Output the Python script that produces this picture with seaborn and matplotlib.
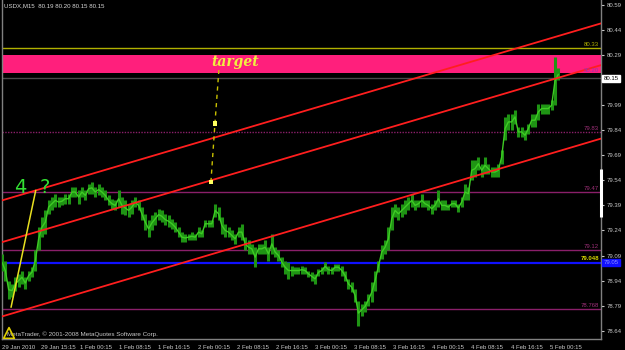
import numpy as np
import pandas as pd
import matplotlib
matplotlib.use("Agg")
import matplotlib.pyplot as plt
import seaborn as sns

# ---------------- data ----------------
title_text = "USDX,M15  80.19 80.20 80.15 80.15"
copyright_text = "MetaTrader, \u00a9 2001-2008 MetaQuotes Software Corp."

# sampled M15 price range (high / low), one sample every ~2.7 bars
bar_high = [79.10, 79.06, 78.94, 78.92, 78.96, 78.98, 79.00, 78.96, 79.00, 79.02,
            79.12, 79.26, 79.32, 79.36, 79.42, 79.44, 79.46, 79.44, 79.44, 79.46,
            79.46, 79.50, 79.50, 79.48, 79.50, 79.48, 79.52, 79.53, 79.50, 79.52,
            79.50, 79.48, 79.45, 79.43, 79.42, 79.48, 79.44, 79.42, 79.40, 79.42,
            79.44, 79.42, 79.38, 79.34, 79.30, 79.33, 79.35, 79.37, 79.36, 79.34,
            79.33, 79.31, 79.29, 79.26, 79.23, 79.22, 79.22, 79.23, 79.22, 79.26,
            79.24, 79.30, 79.30, 79.30, 79.40, 79.38, 79.32, 79.28, 79.26, 79.24,
            79.22, 79.26, 79.28, 79.20, 79.18, 79.16, 79.14, 79.16, 79.16, 79.18,
            79.14, 79.22, 79.14, 79.12, 79.08, 79.06, 79.05, 79.03, 79.02, 79.02,
            79.03, 79.02, 79.00, 78.99, 78.98, 79.01, 79.02, 79.05, 79.03, 79.02,
            79.04, 79.04, 79.03, 79.00, 78.95, 78.93, 78.89, 78.82, 78.80, 78.82,
            78.86, 78.93, 79.00, 79.06, 79.15, 79.18, 79.26, 79.38, 79.40, 79.38,
            79.40, 79.42, 79.44, 79.46, 79.42, 79.42, 79.46, 79.42, 79.42, 79.40,
            79.42, 79.48, 79.42, 79.42, 79.40, 79.42, 79.42, 79.40, 79.44, 79.52,
            79.50, 79.66, 79.66, 79.68, 79.64, 79.68, 79.64, 79.62, 79.62, 79.64,
            79.72, 79.92, 79.94, 79.94, 79.96, 79.86, 79.86, 79.84, 79.88, 79.94,
            79.94, 80.00, 80.00, 80.00, 80.00, 80.02, 80.28, 80.21]
bar_low = [79.00, 78.94, 78.83, 78.84, 78.88, 78.90, 78.92, 78.89, 78.94, 78.96,
           79.00, 79.12, 79.20, 79.22, 79.34, 79.36, 79.38, 79.38, 79.39, 79.40,
           79.40, 79.44, 79.44, 79.40, 79.44, 79.42, 79.46, 79.46, 79.44, 79.45,
           79.44, 79.42, 79.39, 79.37, 79.36, 79.38, 79.34, 79.33, 79.32, 79.34,
           79.38, 79.36, 79.30, 79.24, 79.20, 79.24, 79.27, 79.30, 79.29, 79.27,
           79.26, 79.25, 79.23, 79.20, 79.17, 79.17, 79.18, 79.18, 79.18, 79.20,
           79.20, 79.26, 79.26, 79.26, 79.32, 79.30, 79.22, 79.20, 79.20, 79.18,
           79.16, 79.20, 79.18, 79.12, 79.10, 79.10, 79.02, 79.10, 79.10, 79.10,
           79.06, 79.10, 79.08, 79.06, 79.02, 78.98, 78.95, 78.97, 78.98, 78.98,
           78.98, 78.98, 78.96, 78.94, 78.92, 78.97, 78.98, 79.00, 78.98, 78.98,
           79.00, 79.00, 78.97, 78.94, 78.89, 78.87, 78.81, 78.67, 78.73, 78.75,
           78.79, 78.81, 78.88, 78.99, 79.07, 79.10, 79.12, 79.24, 79.32, 79.30,
           79.32, 79.34, 79.36, 79.38, 79.36, 79.38, 79.38, 79.38, 79.36, 79.34,
           79.36, 79.38, 79.36, 79.36, 79.36, 79.38, 79.38, 79.35, 79.38, 79.42,
           79.42, 79.54, 79.56, 79.60, 79.56, 79.58, 79.58, 79.56, 79.56, 79.56,
           79.64, 79.78, 79.84, 79.84, 79.88, 79.80, 79.80, 79.78, 79.82, 79.86,
           79.86, 79.90, 79.94, 79.94, 79.94, 79.96, 79.99, 80.14]
bars_per_sample = 2.725

time_labels = ["29 Jan 2010", "29 Jan 15:15", "1 Feb 00:15", "1 Feb 08:15",
               "1 Feb 16:15", "2 Feb 00:15", "2 Feb 08:15", "2 Feb 16:15",
               "3 Feb 00:15", "3 Feb 08:15", "3 Feb 16:15", "4 Feb 00:15",
               "4 Feb 08:15", "4 Feb 16:15", "5 Feb 00:15"]
bars_per_label = 32

price_ticks = [80.59, 80.44, 80.29, 79.99, 79.84, 79.69, 79.54, 79.39,
               79.24, 79.09, 78.94, 78.79, 78.64]

resistance_level = 80.33
target_zone = [80.18, 80.29]
zone_label = "80.20"
bid_price = 80.15
dotted_level = 79.83
purple_levels = [79.47, 79.12, 78.768]
purple_labels = ["79.47", "79.12", "78.768"]
blue_level = 79.048
scroll_marker = [79.32, 79.61]

# parallel channel (start bar / end bar, prices of upper, middle, lower line)
channel_bars = [0, 490]
channel_upper = [79.42, 80.48]
channel_middle = [79.17, 80.23]
channel_lower = [78.725, 79.79]

# impulse wave "4" line
wave_bars = [7.4, 27.6]
wave_prices = [78.78, 79.48]

# projection to target
target_bars = [170.9, 174.2, 177.4]
target_prices = [79.53, 79.88, 80.20]

# ---------------- figure ----------------
sns.set_style("dark")
plt.rcParams['font.family'] = ['Liberation Sans', 'DejaVu Sans']

W, H = 625, 350
fig = plt.figure(figsize=(W / 100, H / 100), dpi=100, facecolor="black")
ax = fig.add_axes([2 / W, 11 / H, 599 / W, 339 / H])
ax.set_facecolor("black")

ax.set_xlim(0, 490)
ax.set_ylim(78.59, 80.62)
ytr = ax.get_yaxis_transform()
small = 4.3

# target zone
ax.axhspan(target_zone[0], target_zone[1], color="#ff1f7c", lw=0, zorder=1)
ax.text(0.997, target_zone[0] + 0.004, zone_label, transform=ytr,
        ha="right", va="bottom", fontsize=small, color="#9a2fb0", zorder=6)

# horizontal levels
ax.axhline(resistance_level, color="#b0b000", lw=1.0, zorder=2)
ax.text(0.997, resistance_level + 0.008, f"{resistance_level:.2f}", transform=ytr,
        ha="right", va="bottom", fontsize=small, color="#b0b000", zorder=6)
ax.axhline(bid_price, color="#4a4a4a", lw=1.0, zorder=2)
ax.axhline(dotted_level, color="#8a1f6a", lw=1.0, ls=(0, (1, 1)), zorder=2)
ax.text(0.997, dotted_level + 0.008, f"{dotted_level:.2f}", transform=ytr,
        ha="right", va="bottom", fontsize=small, color="#a0307a", zorder=6)
for lv, lab in zip(purple_levels, purple_labels):
    ax.axhline(lv, color="#8a1f6a", lw=1.0, zorder=2)
    ax.text(0.997, lv + 0.008, lab, transform=ytr,
            ha="right", va="bottom", fontsize=small, color="#a0307a", zorder=6)
ax.axhline(blue_level, color="#1010ff", lw=1.6, zorder=2)
ax.text(0.997, blue_level + 0.01, f"{blue_level:.3f}", transform=ytr,
        ha="right", va="bottom", fontsize=small, color="#d8d800",
        fontweight="bold", zorder=6)

# channel lines
chan = pd.DataFrame({
    "bar": channel_bars * 3,
    "price": channel_upper + channel_middle + channel_lower,
    "line": ["upper"] * 2 + ["middle"] * 2 + ["lower"] * 2,
})
sns.lineplot(data=chan, x="bar", y="price", units="line", estimator=None,
             color="#ff1e1e", lw=1.3, ax=ax, zorder=4)

# price bars
n = len(bar_high)
t = np.arange(n) * bars_per_sample
mid = (np.array(bar_high) + np.array(bar_low)) / 2
ax.vlines(t, bar_low, bar_high, color="#1f9414", lw=2.2, zorder=3)
ax.plot(t, mid, color="#3ecb24", lw=1.0, zorder=3)

# wave line
wave = pd.DataFrame({"bar": wave_bars, "price": wave_prices})
sns.lineplot(data=wave, x="bar", y="price", color="#e8e020", lw=1.1, ax=ax, zorder=5)

# target projection
tgt = pd.DataFrame({"bar": target_bars, "price": target_prices})
sns.lineplot(data=tgt, x="bar", y="price", color="#c8c000", lw=1.0,
             ax=ax, zorder=5, linestyle=(0, (3, 3)))
sns.scatterplot(data=tgt.iloc[:2], x="bar", y="price", marker="s", s=9,
                color="#ffff60", edgecolor="none", ax=ax, zorder=6)

# annotations
ax.text(14.7, 79.50, "4", color="#33e033", fontsize=14, ha="center", va="center",
        family="DejaVu Sans", zorder=6)
ax.text(35.2, 79.50, "?", color="#33e033", fontsize=14, ha="center", va="center",
        family="DejaVu Sans", zorder=6)
ax.text(190.5, 80.25, "target", color="#f0f040", fontsize=10, ha="center",
        va="center", family="DejaVu Serif", style="italic", fontweight="bold",
        zorder=6)

ax.text(2 / 599, 1 - 6 / 339, title_text, transform=ax.transAxes, ha="left",
        va="center", fontsize=4.4, color="#d8d8d8")
ax.text(5 / 599, 5 / 339, copyright_text, transform=ax.transAxes, ha="left",
        va="center", fontsize=4.5, color="#c8c8c8", zorder=6)
ax.scatter([7 / 599], [6 / 339], transform=ax.transAxes, marker="^", s=60,
           facecolor="none", edgecolor="#e0d000", lw=1.2, zorder=7)

# scroll marker on the scale
ax.plot([1.0, 1.0], scroll_marker, transform=ytr, color="white", lw=2.2,
        clip_on=False, zorder=9, solid_capstyle="butt")

# axes styling
for side in ["left", "bottom", "right"]:
    ax.spines[side].set_visible(True)
    ax.spines[side].set_color("#808080")
    ax.spines[side].set_linewidth(1)
ax.spines["top"].set_visible(False)

ax.yaxis.tick_right()
ax.set_yticks(price_ticks)
ax.set_yticklabels([f"{v:.2f}" for v in price_ticks])
ax.tick_params(axis="y", which="both", colors="#c8c8c8", labelsize=small, length=2,
               width=0.8, pad=2, right=True, left=False, direction="out")
ax.set_xticks(np.arange(len(time_labels)) * bars_per_label)
ax.set_xticklabels(time_labels, ha="left")
ax.tick_params(axis="x", colors="#c8c8c8", labelsize=small, length=3, width=0.8,
               pad=1, direction="out")
ax.set_xlabel("")
ax.set_ylabel("")
ax.grid(False)

# price boxes on the scale
ax.text(1.004, bid_price, f"{bid_price:.2f}", transform=ytr,
        ha="left", va="center", fontsize=small, color="black",
        bbox=dict(boxstyle="square,pad=0.2", fc="white", ec="white"), zorder=8,
        clip_on=False)
ax.text(1.004, blue_level, f"{blue_level:.2f}", transform=ytr,
        ha="left", va="center", fontsize=small, color="#9090ff",
        bbox=dict(boxstyle="square,pad=0.2", fc="#1010ff", ec="#1010ff"), zorder=8,
        clip_on=False)

fig.savefig("out.png", dpi=100, facecolor="black")
